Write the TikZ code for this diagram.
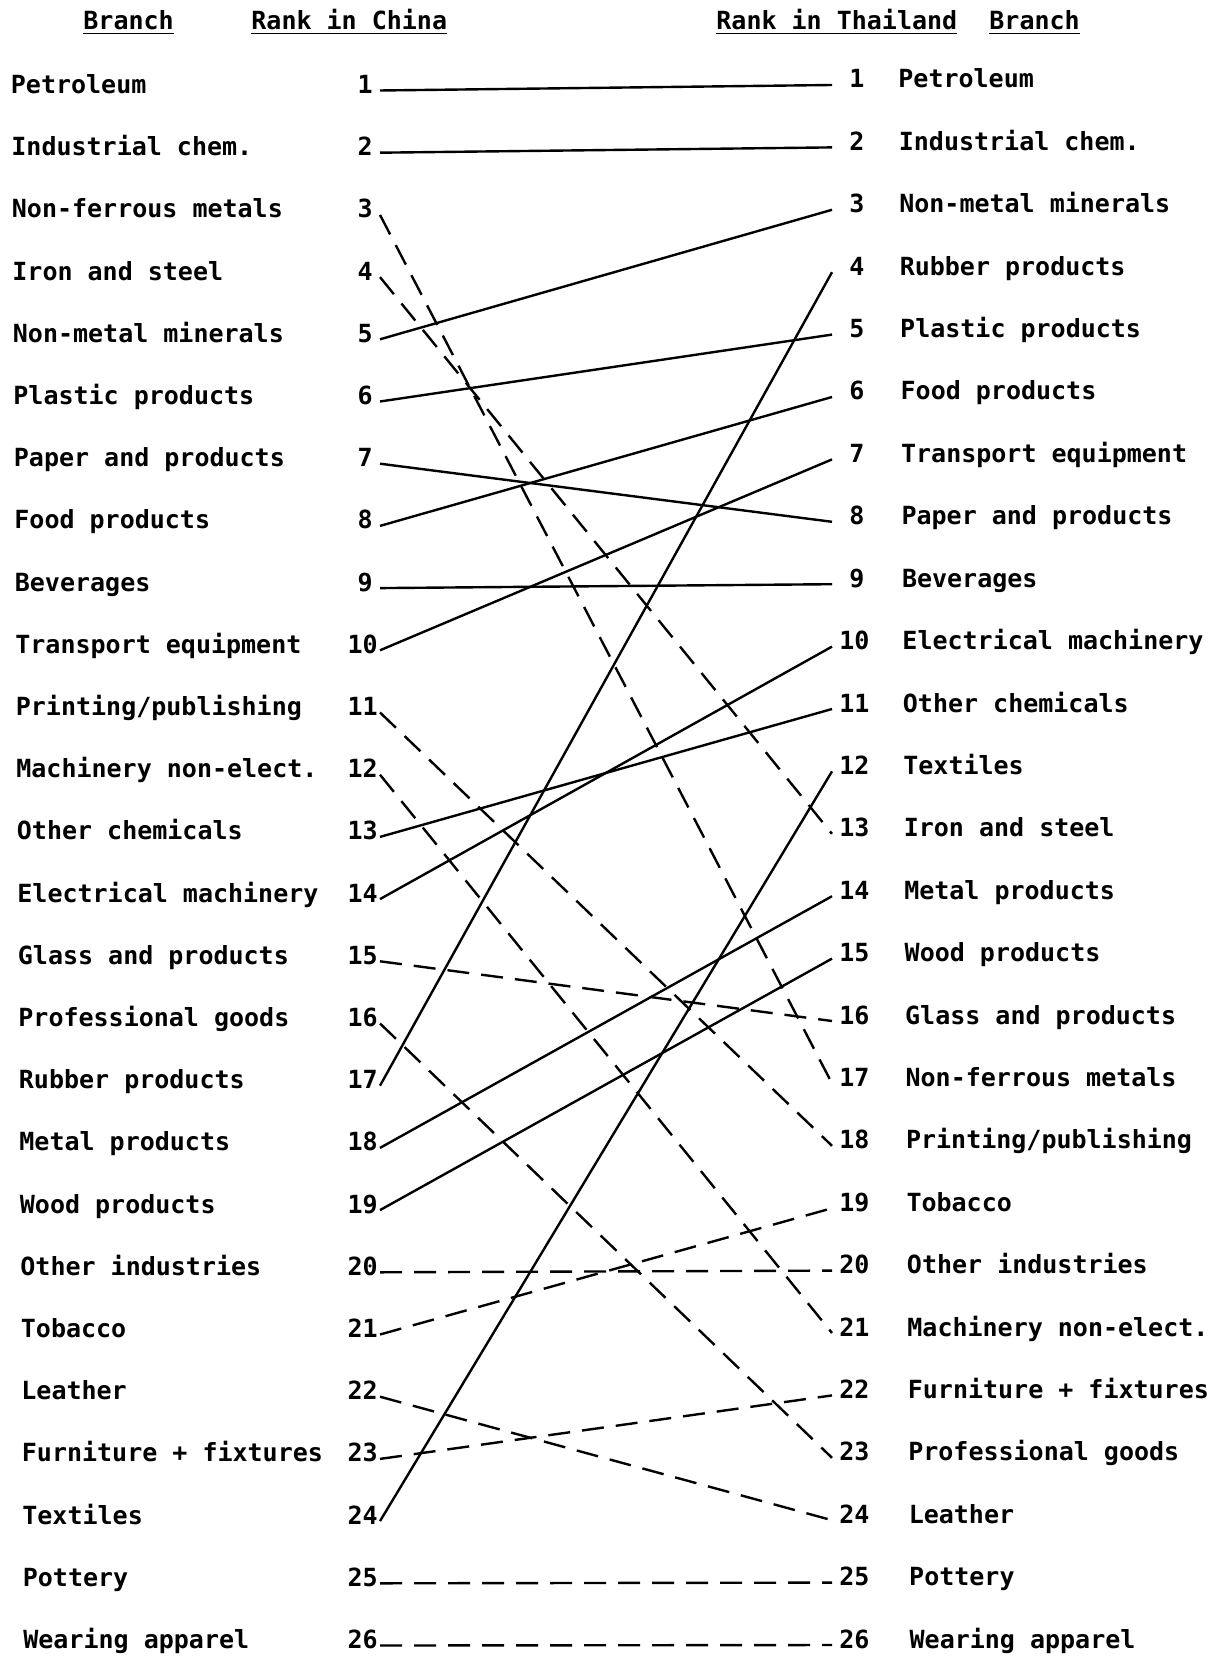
\documentclass[tikz,border=0pt]{standalone}
\usepackage{fontspec}
\setmainfont{DejaVu Sans Mono}
\usepackage{tikz}

\tikzset{
  branch/.style={anchor=base west,inner sep=0pt},
  rankno/.style={inner xsep=3.5pt,inner ysep=0pt,text width=1.25em,align=right},
  link/.style={line width=1.2pt},
  dashlink/.style={link,dash pattern=on 11pt off 6pt}
}

\begin{document}
\begin{tikzpicture}[x=0.5pt,y=-0.5pt,font=\fontsize{12.5}{15}\selectfont\bfseries]
\useasboundingbox (0,0) rectangle (1215,1657);
% column heads
\node[branch] (headL) at (83,30) {\underline{Branch}};
\node[branch] (headC) at (251,30) {\underline{Rank in China}};
\node[branch] (headT) at (716,30) {\underline{Rank in Thailand}};
\node[branch] (headR) at (989,30) {\underline{Branch}};
% China side
\foreach \name [count=\i] in {Petroleum, Industrial chem., Non-ferrous metals,
  Iron and steel, Non-metal minerals, Plastic products, Paper and products,
  Food products, Beverages, Transport equipment, Printing/publishing,
  Machinery non-elect., Other chemicals, Electrical machinery,
  Glass and products, Professional goods, Rubber products, Metal products,
  Wood products, Other industries, Tobacco, Leather, Furniture + fixtures,
  Textiles, Pottery, Wearing apparel}{
  \node[branch] (bc\i) at ({10.5+0.5*(\i-1)},{93.5+62.2*(\i-1)}) {\name};
  \node[rankno,anchor=base east] (c\i) at (380,{93.5+62.2*(\i-1)}) {\i};
}
% Thailand side
\foreach \name [count=\i] in {Petroleum, Industrial chem., Non-metal minerals,
  Rubber products, Plastic products, Food products, Transport equipment,
  Paper and products, Beverages, Electrical machinery, Other chemicals,
  Textiles, Iron and steel, Metal products, Wood products, Glass and products,
  Non-ferrous metals, Printing/publishing, Tobacco, Other industries,
  Machinery non-elect., Furniture + fixtures, Professional goods, Leather,
  Pottery, Wearing apparel}{
  \node[rankno,anchor=base west] (t\i) at (832,{88+62.4*(\i-1)}) {\i};
  \node[branch] (bt\i) at ({898+0.45*(\i-1)},{88+62.4*(\i-1)}) {\name};
}
% rank changes
\foreach \a/\b/\s in {1/1/link, 2/2/link, 3/17/dashlink, 4/13/dashlink,
  5/3/link, 6/5/link, 7/8/link, 8/6/link, 9/9/link, 10/7/link,
  11/18/dashlink, 12/21/dashlink, 13/11/link, 14/10/link, 15/16/dashlink,
  16/23/dashlink, 17/4/link, 18/14/link, 19/15/link, 20/20/dashlink,
  21/19/dashlink, 22/24/dashlink, 23/22/dashlink, 24/12/link,
  25/25/dashlink, 26/26/dashlink}
  \draw[\s] ([yshift=1.5pt]c\a.base east) -- ([yshift=1.5pt]t\b.base west);
\end{tikzpicture}
\end{document}
